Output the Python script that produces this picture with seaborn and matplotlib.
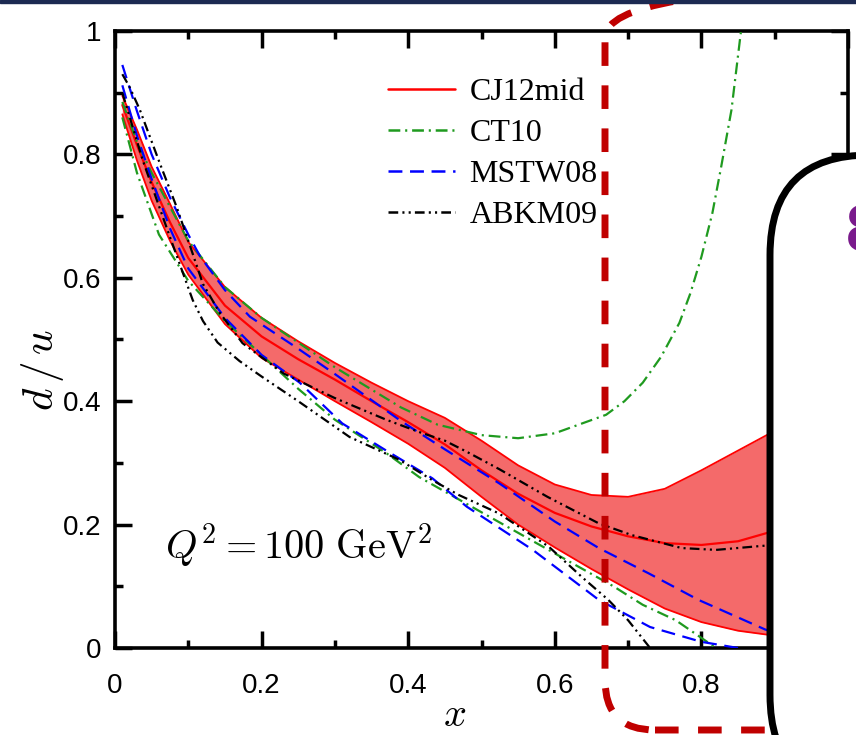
import matplotlib
matplotlib.use("Agg")
import seaborn as sns
import matplotlib.pyplot as plt
from matplotlib.patches import FancyBboxPatch, Rectangle
from matplotlib.lines import Line2D
from matplotlib.transforms import IdentityTransform
from matplotlib.ticker import MultipleLocator

# CJ12mid band (upper / central / lower)
cj_x = [0.01, 0.03, 0.05, 0.075, 0.1, 0.15, 0.2, 0.25, 0.3, 0.35, 0.4, 0.45, 0.5,
        0.55, 0.6, 0.65, 0.7, 0.75, 0.8, 0.85, 0.9]
cj_up = [0.895, 0.84, 0.78, 0.72, 0.658, 0.585, 0.535, 0.497, 0.462, 0.43, 0.40, 0.373,
         0.336, 0.296, 0.265, 0.248, 0.245, 0.258, 0.288, 0.32, 0.352]
cj_mid = [0.88, 0.815, 0.755, 0.69, 0.632, 0.555, 0.505, 0.468, 0.435, 0.40, 0.366, 0.33,
          0.288, 0.25, 0.219, 0.197, 0.181, 0.17, 0.167, 0.173, 0.19]
cj_lo = [0.865, 0.79, 0.725, 0.66, 0.605, 0.525, 0.47, 0.435, 0.40, 0.366, 0.331, 0.292,
         0.245, 0.2, 0.163, 0.128, 0.095, 0.064, 0.042, 0.028, 0.02]

# CT10 error curves
ct_hi_x = [0.01, 0.03, 0.05, 0.1, 0.15, 0.2, 0.3, 0.39, 0.44, 0.5, 0.55, 0.6, 0.67,
           0.695, 0.72, 0.745, 0.77, 0.785, 0.8, 0.815, 0.827, 0.841, 0.853, 0.87]
ct_hi = [0.885, 0.82, 0.77, 0.66, 0.585, 0.535, 0.455, 0.39, 0.362, 0.345, 0.34, 0.348,
         0.378, 0.40, 0.43, 0.472, 0.527, 0.575, 0.634, 0.705, 0.78, 0.872, 0.99, 1.15]
ct_lo_x = [0.01, 0.03, 0.06, 0.1, 0.15, 0.2, 0.25, 0.3, 0.37, 0.415, 0.5, 0.56, 0.62,
           0.68, 0.72, 0.765, 0.82]
ct_lo = [0.86, 0.77, 0.67, 0.595, 0.53, 0.475, 0.42, 0.37, 0.316, 0.277, 0.22, 0.18,
         0.14, 0.1, 0.07, 0.045, 0.0]

# MSTW08 error curves
ms_hi_x = [0.01, 0.03, 0.05, 0.075, 0.1, 0.116, 0.15, 0.184, 0.25, 0.3, 0.39, 0.45,
           0.524, 0.6, 0.66, 0.728, 0.796, 0.887, 0.93]
ms_hi = [0.945, 0.87, 0.80, 0.73, 0.67, 0.635, 0.58, 0.537, 0.485, 0.444, 0.368, 0.322,
         0.267, 0.205, 0.162, 0.121, 0.078, 0.03, 0.015]
ms_lo_x = [0.01, 0.03, 0.05, 0.075, 0.1, 0.15, 0.2, 0.252, 0.31, 0.37, 0.433, 0.48,
           0.57, 0.66, 0.73, 0.8, 0.85]
ms_lo = [0.912, 0.83, 0.76, 0.68, 0.615, 0.535, 0.475, 0.43, 0.364, 0.32, 0.275, 0.229,
         0.159, 0.078, 0.034, 0.01, 0.0]

# ABKM09 error curves
ab_hi_x = [0.01, 0.02, 0.034, 0.044, 0.061, 0.084, 0.1, 0.12, 0.143, 0.174, 0.23, 0.3,
           0.37, 0.415, 0.45, 0.48, 0.524, 0.59, 0.66, 0.705, 0.773, 0.82, 0.878, 0.93]
ab_hi = [0.93, 0.909, 0.872, 0.84, 0.786, 0.715, 0.66, 0.59, 0.543, 0.494, 0.445, 0.405,
         0.37, 0.35, 0.336, 0.318, 0.29, 0.245, 0.202, 0.183, 0.162, 0.159, 0.165, 0.17]
ab_lo_x = [0.01, 0.038, 0.075, 0.106, 0.12, 0.14, 0.17, 0.2, 0.25, 0.32, 0.388, 0.433,
           0.469, 0.524, 0.592, 0.637, 0.673, 0.7, 0.718, 0.73]
ab_lo = [0.90, 0.79, 0.666, 0.564, 0.53, 0.495, 0.465, 0.44, 0.40, 0.342, 0.305, 0.272,
         0.248, 0.218, 0.164, 0.115, 0.078, 0.045, 0.018, 0.0]

ticks = [0, 0.2, 0.4, 0.6, 0.8, 1]
tick_labels = ["0", "0.2", "0.4", "0.6", "0.8", "1"]
legend_labels = ["CJ12mid", "CT10", "MSTW08", "ABKM09"]

sns.set_style("ticks")
plt.rcParams["font.family"] = ["Liberation Sans", "DejaVu Sans"]
plt.rcParams["mathtext.fontset"] = "cm"
plt.rcParams["lines.scale_dashes"] = False
plt.rcParams["text.color"] = "black"
plt.rcParams["axes.labelcolor"] = "black"
plt.rcParams["xtick.labelcolor"] = "black"
plt.rcParams["ytick.labelcolor"] = "black"

W, H = 856, 735
fig = plt.figure(figsize=(W / 100, H / 100), dpi=100)
ax = fig.add_axes([115 / W, 1 - 648 / H, 733 / W, 617 / H])

green = "#1f9a1f"
ls_ct = (0, (8.5, 3.5, 1.5, 3.5))
ls_ms = (0, (10, 5.5))
ls_ab = (0, (7, 3, 1.5, 3, 1.5, 3))


def curve(xs, ys, color, ls, lw=1.6, z=3):
    sns.lineplot(x=xs, y=ys, ax=ax, color=color, linestyle=ls, linewidth=lw,
                 estimator=None, sort=False, legend=False, zorder=z)


ax.fill_between(cj_x, cj_lo, cj_up, color="#f46a6a", lw=0, zorder=1)
curve(cj_x, cj_up, "red", "-", 1.3, 2)
curve(cj_x, cj_lo, "red", "-", 1.3, 2)
curve(cj_x, cj_mid, "red", "-", 1.6, 2)
curve(ct_hi_x, ct_hi, green, ls_ct)
curve(ct_lo_x, ct_lo, green, ls_ct)
curve(ms_hi_x, ms_hi, "blue", ls_ms)
curve(ms_lo_x, ms_lo, "blue", ls_ms)
curve(ab_hi_x, ab_hi, "black", ls_ab)
curve(ab_lo_x, ab_lo, "black", ls_ab)

ax.set_xlim(0, 1)
ax.set_ylim(0, 1)
ax.set_xticks(ticks, tick_labels)
ax.set_yticks(ticks, tick_labels)
ax.xaxis.set_minor_locator(MultipleLocator(0.1))
ax.yaxis.set_minor_locator(MultipleLocator(0.1))
ax.tick_params(which="both", direction="in", top=True, right=True, width=2.5, color="black")
ax.tick_params(which="major", length=12, labelsize=20, pad=10)
ax.tick_params(axis="x", which="major", pad=18)
ax.tick_params(which="minor", length=6)
for sp in ax.spines.values():
    sp.set_linewidth(2.6)
    sp.set_color("black")

ax.set_xlabel("$x$", fontsize=29)
ax.set_ylabel("$d\\,/\\,u$", fontsize=31)
ax.xaxis.set_label_coords((455 - 115) / 733, -(696 - 648) / 617)
ax.yaxis.set_label_coords(-(115 - 66) / 733, 0.45)

ax.text(0.068, 0.165, "$Q^2 = 100\\ \\mathrm{GeV}^2$", fontsize=29, va="center", ha="left")

handles = [Line2D([], [], color="red", lw=1.8),
           Line2D([], [], color=green, lw=1.8, ls=ls_ct),
           Line2D([], [], color="blue", lw=1.8, ls=ls_ms),
           Line2D([], [], color="black", lw=1.8, ls=ls_ab)]
ax.legend(handles, legend_labels, loc="upper left",
          bbox_to_anchor=((388 - 115) / 733, (648 - 78) / 617), frameon=False,
          prop={"family": "Liberation Serif", "size": 23}, handlelength=2.1,
          handletextpad=0.45, labelspacing=0.36, borderpad=0, borderaxespad=0)

# slide overlays (pixel coordinates, origin bottom-left)
ident = IdentityTransform()
fig.add_artist(FancyBboxPatch((605, 5), 345, 742, boxstyle="round,pad=0,rounding_size=50",
                              fill=False, ec="#c00000", lw=5, ls=(0, (17, 14)),
                              transform=ident, zorder=5))
fig.add_artist(FancyBboxPatch((770, -60), 320, 640, boxstyle="round,pad=0,rounding_size=100",
                              fc="white", ec="black", lw=5, transform=ident, zorder=6))
fig.add_artist(Rectangle((0, 732), W, 3, color="#1c2a52", transform=ident, zorder=7))
fig.text(846 / W, 1 - 234 / H, "8", color="#7a1a8c", fontsize=48, fontweight="bold",
         ha="left", va="center", zorder=8)

fig.savefig("out.png", dpi=100)
